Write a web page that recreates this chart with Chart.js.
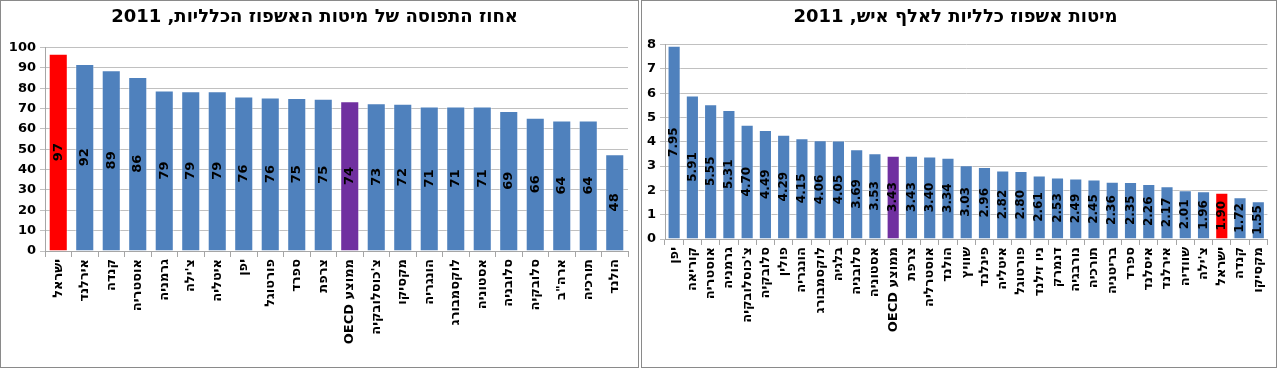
<!DOCTYPE html>
<html lang="he">
<head>
<meta charset="utf-8">
<script src="https://cdn.jsdelivr.net/npm/chart.js@4.4.1/dist/chart.umd.min.js"></script>
<style>
  body { margin: 0; background: #fff; }
  .box { position: absolute; top: 0; height: 366px; border: 1px solid #8a8a8a; background: #fff; }
  #boxLeft { left: 0; width: 637px; }
  #boxRight { left: 641px; width: 634px; }
  canvas { display: block; }
</style>
</head>
<body>
<div class="box" id="boxLeft"><canvas id="occupancy" dir="rtl" width="637" height="366"></canvas></div>
<div class="box" id="boxRight"><canvas id="beds" dir="rtl" width="634" height="366"></canvas></div>
<script>
// אחוז התפוסה של מיטות האשפוז הכלליות, 2011
const occCountries = ["ישראל", "אירלנד", "קנדה", "אוסטריה", "גרמניה", "צ'ילה", "איטליה", "יפן",
  "פורטוגל", "ספרד", "צרפת", "ממוצע OECD", "צ'כוסלובקיה", "מקסיקו", "הונגריה", "לוקסמבורג",
  "אסטוניה", "סלובניה", "סלובקיה", "ארה\"ב", "תורכיה", "הולנד"];
const occValues = [97.0, 91.9, 88.9, 85.5, 78.9, 78.6, 78.6, 75.9, 75.5, 75.2, 74.8, 73.6,
  72.7, 72.4, 71.1, 71.0, 71.0, 68.8, 65.5, 64.2, 64.1, 47.6];

// מיטות אשפוז כלליות לאלף איש, 2011
const bedCountries = ["יפן", "קוריאה", "אוסטריה", "גרמניה", "צ'כוסלובקיה", "סלובקיה", "פולין",
  "הונגריה", "לוקסמבורג", "בלגיה", "סלובניה", "אסטוניה", "ממוצע OECD", "צרפת", "אוסטרליה",
  "הולנד", "שוויץ", "פינלנד", "איטליה", "פורטוגל", "ניו זילנד", "דנמרק", "נורבגיה", "תורכיה",
  "בריטניה", "ספרד", "איסלנד", "אירלנד", "שוודיה", "צ'ילה", "ישראל", "קנדה", "מקסיקו"];
const bedValues = [7.95, 5.91, 5.55, 5.31, 4.70, 4.49, 4.29, 4.15, 4.06, 4.05, 3.69, 3.53, 3.43,
  3.43, 3.40, 3.34, 3.03, 2.96, 2.82, 2.80, 2.61, 2.53, 2.49, 2.45, 2.36, 2.35, 2.26, 2.17,
  2.01, 1.96, 1.90, 1.72, 1.55];

const BLUE = "#4f81bd";
const RED = "#ff0000";
const PURPLE = "#7030a0";
const FONT = "'DejaVu Sans', sans-serif";

function barColors(labels) {
  return labels.map(l => l === "ישראל" ? RED : (l.indexOf("OECD") >= 0 ? PURPLE : BLUE));
}

// rotated value labels in the middle of each bar
const barLabels = {
  id: "barLabels",
  afterDatasetsDraw(chart, args, opts) {
    const ctx = chart.ctx;
    const data = chart.data.datasets[0].data;
    ctx.save();
    ctx.font = "bold " + opts.size + "px " + FONT;
    ctx.fillStyle = "#000";
    ctx.textAlign = "center";
    ctx.textBaseline = "middle";
    chart.getDatasetMeta(0).data.forEach((bar, i) => {
      ctx.save();
      ctx.translate(bar.x, (bar.y + bar.base) / 2);
      ctx.rotate(-Math.PI / 2);
      ctx.fillText(data[i].toFixed(opts.decimals), 0, 0);
      ctx.restore();
    });
    ctx.restore();
  }
};

function makeChart(id, title, labels, values, yMax, yStep, decimals, labelSize, titleGap, axisHeight, axisWidth, padRight) {
  return new Chart(document.getElementById(id), {
    type: "bar",
    data: {
      labels: labels,
      datasets: [{
        data: values,
        backgroundColor: barColors(labels),
        borderColor: "rgba(255,255,255,0.45)",
        borderWidth: 1,
        categoryPercentage: 1,
        barPercentage: 0.72
      }]
    },
    plugins: [barLabels],
    options: {
      responsive: false,
      animation: false,
      layout: { padding: { left: 0, right: padRight, top: 0, bottom: 0 } },
      plugins: {
        legend: { display: false },
        tooltip: { enabled: false },
        title: {
          display: true,
          text: title,
          color: "#000",
          font: { family: FONT, size: 18, weight: "bold" },
          padding: { top: 6, bottom: titleGap }
        },
        barLabels: { size: labelSize, decimals: decimals }
      },
      scales: {
        x: {
          afterFit: s => { s.height = axisHeight; },
          grid: { display: true, drawOnChartArea: false, color: "#a6a6a6", tickLength: 6 },
          border: { color: "#a6a6a6" },
          ticks: {
            autoSkip: false, minRotation: 90, maxRotation: 90, color: "#000", padding: 2,
            font: { family: FONT, size: 13, weight: "bold" }
          }
        },
        y: {
          min: 0, max: yMax,
          afterFit: s => { s.width = axisWidth; },
          grid: { color: "#c0c0c0", tickLength: 5 },
          border: { color: "#a6a6a6" },
          ticks: {
            stepSize: yStep, color: "#000", padding: 4,
            font: { family: FONT, size: 13, weight: "bold" }
          }
        }
      }
    }
  });
}

makeChart("occupancy", "אחוז התפוסה של מיטות האשפוז הכלליות, 2011",
  occCountries, occValues, 100, 10, 0, 13, 19, 116, 44, 10);
makeChart("beds", "מיטות אשפוז כלליות לאלף איש, 2011",
  bedCountries, bedValues, 8, 1, 2, 12, 16, 128, 23, 7);
</script>
</body>
</html>
